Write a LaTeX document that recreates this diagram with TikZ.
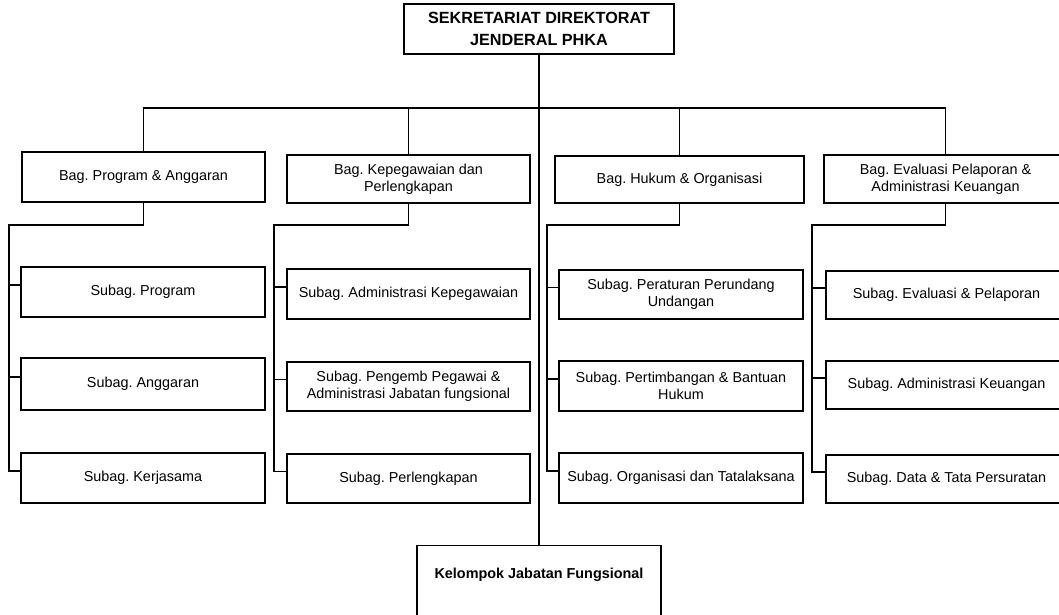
\documentclass[tikz,border=0pt]{standalone}
\usepackage{fontspec}
\setmainfont{Liberation Sans}
\frenchspacing
\begin{document}
\begin{tikzpicture}[x=1pt,y=-1pt,
  box/.style={draw, line width=1.3pt, align=center, inner sep=0pt,
    font=\fontsize{14.4}{16.7}\selectfont\frenchspacing},
  topbox/.style={box, font=\fontsize{16.2}{22}\selectfont\bfseries},
  conn/.style={line width=1.3pt}]
\useasboundingbox (0,0) rectangle (1059,615);
\clip (0,0) rectangle (1059,615);

\node[topbox, minimum width=270pt, minimum height=50pt] (top) at (539,29) {SEKRETARIAT DIREKTORAT\\JENDERAL PHKA};

\node[box, minimum width=243pt, minimum height=50pt] (b1) at (143.5,177) {Bag. Program \& Anggaran};
\node[box, minimum width=243pt, minimum height=48pt] (b2) at (408.5,179) {Bag. Kepegawaian dan\\Perlengkapan};
\node[box, minimum width=249pt, minimum height=47pt] (b3) at (679.5,179.5) {Bag. Hukum \& Organisasi};
\node[box, minimum width=243pt, minimum height=48pt] (b4) at (945.5,179) {Bag. Evaluasi Pelaporan \&\\Administrasi Keuangan};

\node[box, minimum width=244pt, minimum height=50pt] (s11) at (143,292) {Subag. Program};
\node[box, minimum width=244pt, minimum height=52pt] (s12) at (143,384) {Subag. Anggaran};
\node[box, minimum width=244pt, minimum height=50pt] (s13) at (143,478) {Subag. Kerjasama};

\node[box, minimum width=243pt, minimum height=50pt] (s21) at (408.5,294) {Subag. Administrasi Kepegawaian};
\node[box, minimum width=243pt, minimum height=49pt] (s22) at (408.5,386.5) {Subag. Pengemb Pegawai \&\\Administrasi Jabatan fungsional};
\node[box, minimum width=243pt, minimum height=49pt] (s23) at (408.5,478.5) {Subag. Perlengkapan};

\node[box, minimum width=244pt, minimum height=49pt] (s31) at (681,294.5) {Subag. Peraturan Perundang\\Undangan};
\node[box, minimum width=244pt, minimum height=50pt] (s32) at (681,386) {Subag. Pertimbangan \& Bantuan\\Hukum};
\node[box, minimum width=244pt, minimum height=50pt] (s33) at (681,478) {Subag. Organisasi dan Tatalaksana};

\node[box, minimum width=241pt, minimum height=48pt] (s41) at (946.5,295) {Subag. Evaluasi \& Pelaporan};
\node[box, minimum width=241pt, minimum height=48pt] (s42) at (946.5,385) {Subag. Administrasi Keuangan};
\node[box, minimum width=241pt, minimum height=48pt] (s43) at (946.5,479) {Subag. Data \& Tata Persuratan};

\node[box, minimum width=244pt, minimum height=100pt, anchor=north] (kjf) at (539,545) {};
\node[font=\fontsize{14.4}{16.7}\selectfont\bfseries, inner sep=0pt] (kjft) at (539,575) {Kelompok Jabatan Fungsional};

% top level connectors
\coordinate (bar) at (539,108);
\draw[conn] (top.south) -- (kjf.north);
\draw[conn] (b1.north) -- (b1.north |- bar) -- (b4.north |- bar) -- (b4.north);
\draw[conn] (b2.north) -- (b2.north |- bar);
\draw[conn] (b3.north) -- (b3.north |- bar);

% stub points
\foreach \n in {s11,s12,s13,s21,s22,s23,s31,s32,s33,s41,s42,s43}
  \coordinate (\n w) at ([yshift=7pt]\n.west);

\coordinate (c1) at (9,225);
\coordinate (c2) at (274,225);
\coordinate (c3) at (547,225);
\coordinate (c4) at (812,225);

\draw[conn] (b1.south) |- (c1) -- (c1 |- s13w) -- (s13w);
\draw[conn] (c1 |- s11w) -- (s11w);
\draw[conn] (c1 |- s12w) -- (s12w);

\draw[conn] (b2.south) |- (c2) -- (c2 |- s23w) -- (s23w);
\draw[conn] (c2 |- s21w) -- (s21w);
\draw[conn] (c2 |- s22w) -- (s22w);

\draw[conn] (b3.south) |- (c3) -- (c3 |- s33w) -- (s33w);
\draw[conn] (c3 |- s31w) -- (s31w);
\draw[conn] (c3 |- s32w) -- (s32w);

\draw[conn] (b4.south) |- (c4) -- (c4 |- s43w) -- (s43w);
\draw[conn] (c4 |- s41w) -- (s41w);
\draw[conn] (c4 |- s42w) -- (s42w);
\end{tikzpicture}
\end{document}
